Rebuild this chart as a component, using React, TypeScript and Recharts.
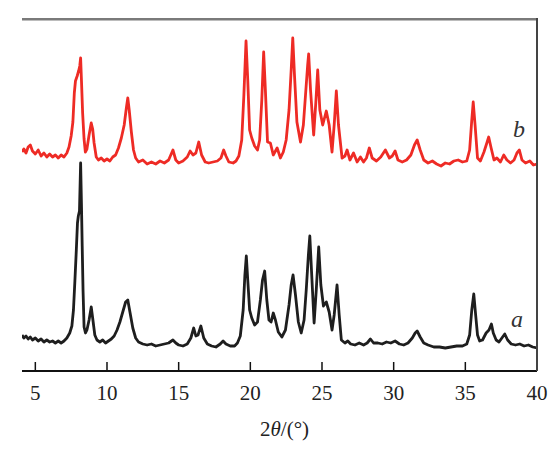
import { LineChart, Line, XAxis, YAxis } from 'recharts';

// 2θ positions (deg) and intensity (a.u.), sample a (black)
const anglesA = [
  4.07, 4.2, 4.35, 4.5, 4.65, 4.8, 5.0, 5.2, 5.4, 5.6, 5.8, 6.0, 6.2, 6.4, 6.6, 6.8, 7.0, 7.2, 7.4,
  7.55, 7.66, 7.76, 7.86, 7.94, 8.0, 8.08, 8.16, 8.22, 8.27, 8.33, 8.4, 8.5, 8.6, 8.75, 8.9, 9.0, 9.15,
  9.3, 9.5, 9.7, 9.9, 10.1, 10.3, 10.5, 10.7, 10.9, 11.1, 11.3, 11.45, 11.6, 11.8, 12.0, 12.2, 12.5,
  12.8, 13.1, 13.4, 13.7, 14.0, 14.3, 14.6, 14.8, 15.0, 15.3, 15.6, 15.85, 16.05, 16.2, 16.35, 16.55,
  16.75, 17.0, 17.3, 17.6, 17.9, 18.1, 18.3, 18.6, 18.9, 19.1, 19.3, 19.5, 19.62, 19.72, 19.82, 19.95,
  20.1, 20.3, 20.5, 20.7, 20.85, 21.0, 21.15, 21.3, 21.45, 21.6, 21.75, 21.95, 22.2, 22.45, 22.7, 22.85,
  22.98, 23.15, 23.35, 23.55, 23.75, 23.9, 24.05, 24.15, 24.3, 24.45, 24.6, 24.77, 24.92, 25.1, 25.3,
  25.5, 25.7, 25.85, 26.05, 26.2, 26.35, 26.6, 26.8, 27.0, 27.3, 27.6, 27.9, 28.15, 28.38, 28.6, 28.9,
  29.2, 29.5, 29.8, 30.1, 30.4, 30.7, 31.0, 31.3, 31.5, 31.64, 31.85, 32.1, 32.4, 32.8, 33.2, 33.6,
  34.0, 34.4, 34.8, 35.1, 35.3, 35.45, 35.59, 35.72, 35.85, 36.0, 36.2, 36.45, 36.65, 36.82, 36.95,
  37.15, 37.35, 37.55, 37.75, 37.95, 38.2, 38.5, 38.8, 39.1, 39.4, 39.7, 40.0,
];
const countsA = [
  36, 33, 35, 32, 34, 31, 33, 30, 32, 29, 31, 29, 30, 28, 30, 28, 30, 33, 38,
  45, 61, 90, 121, 148, 155, 160, 208, 165, 125, 80, 44, 38, 41, 51, 64, 53, 36,
  31, 29, 31, 28, 30, 32, 35, 41, 49, 59, 69, 71, 59, 43, 33, 29, 27,
  26, 27, 25, 26, 27, 28, 31, 28, 26, 25, 27, 33, 43, 35, 36, 45,
  33, 27, 25, 24, 27, 30, 27, 25, 25, 28, 35, 61, 96, 115, 91, 61,
  53, 46, 49, 71, 91, 100, 71, 51, 49, 58, 51, 39, 34, 41, 66, 86,
  96, 76, 49, 38, 51, 81, 116, 135, 91, 48, 81, 124, 86, 65, 69,
  59, 41, 56, 86, 56, 31, 28, 30, 27, 26, 28, 26, 28, 32, 28, 28,
  27, 29, 28, 30, 27, 26, 28, 33, 38, 40, 34, 28, 26, 24, 24, 23,
  24, 25, 25, 27, 36, 61, 77, 56, 36, 30, 31, 38, 41, 47, 38,
  31, 29, 33, 37, 31, 27, 26, 27, 25, 26, 24, 23,
];

// sample b (red)
const anglesB = [
  4.07, 4.2, 4.35, 4.5, 4.65, 4.8, 5.0, 5.2, 5.4, 5.6, 5.8, 6.0, 6.2, 6.4, 6.6, 6.8, 7.0, 7.2, 7.35,
  7.5, 7.62, 7.72, 7.8, 7.92, 8.02, 8.1, 8.16, 8.22, 8.3, 8.4, 8.49, 8.6, 8.75, 8.9, 9.0, 9.1, 9.25,
  9.4, 9.6, 9.8, 10.0, 10.2, 10.4, 10.6, 10.8, 11.0, 11.2, 11.35, 11.45, 11.55, 11.7, 11.85, 12.0,
  12.2, 12.5, 12.8, 13.1, 13.4, 13.7, 14.0, 14.3, 14.6, 14.8, 15.0, 15.3, 15.6, 15.8, 16.0, 16.2,
  16.4, 16.6, 16.85, 17.1, 17.4, 17.7, 17.95, 18.14, 18.3, 18.5, 18.8, 19.0, 19.2, 19.4, 19.55, 19.7,
  19.82, 19.95, 20.1, 20.3, 20.5, 20.65, 20.8, 20.93, 21.05, 21.2, 21.4, 21.6, 21.87, 22.1, 22.3, 22.5,
  22.7, 22.85, 22.96, 23.08, 23.25, 23.5, 23.7, 23.85, 24.0, 24.07, 24.2, 24.42, 24.58, 24.7, 24.85,
  25.05, 25.3, 25.5, 25.7, 25.85, 26.0, 26.15, 26.4, 26.6, 26.75, 26.95, 27.2, 27.45, 27.68, 27.9,
  28.1, 28.3, 28.5, 28.8, 29.1, 29.42, 29.7, 29.9, 30.1, 30.3, 30.6, 30.9, 31.2, 31.45, 31.64, 31.85,
  32.1, 32.4, 32.7, 33.0, 33.3, 33.6, 33.9, 34.2, 34.5, 34.8, 35.1, 35.3, 35.45, 35.55, 35.68, 35.85,
  36.05, 36.3, 36.5, 36.63, 36.8, 37.0, 37.2, 37.45, 37.68, 37.9, 38.15, 38.4, 38.6, 38.77, 38.95,
  39.2, 39.5, 39.75, 40.0,
];
const countsB = [
  219, 222, 218, 224, 226, 220, 217, 221, 215, 218, 214, 217, 214, 216, 213, 216, 214, 218, 224,
  235, 249, 278, 290, 295, 300, 305, 313, 290, 258, 232, 219, 222, 236, 248, 242, 228, 214,
  211, 213, 210, 212, 210, 214, 216, 223, 233, 246, 263, 273, 261, 239, 221, 213,
  209, 211, 207, 209, 207, 210, 208, 211, 221, 211, 208, 210, 214, 220, 216, 218,
  229, 216, 209, 208, 209, 210, 213, 221, 215, 209, 208, 210, 215, 231, 276, 330,
  291, 241, 233, 225, 221, 231, 271, 319, 281, 229, 228, 216, 223, 213, 219, 231,
  261, 301, 333, 296, 249, 229, 246, 276, 306, 317, 281, 236, 271, 301, 261,
  246, 260, 246, 219, 246, 280, 246, 213, 215, 221, 211, 218, 209, 214, 209,
  213, 223, 213, 210, 214, 221, 213, 215, 220, 211, 209, 211, 216, 226, 231, 221,
  211, 208, 210, 207, 205, 208, 207, 210, 211, 209, 210, 221, 251, 269, 246, 213,
  210, 219, 228, 234, 223, 211, 213, 209, 216, 211, 208, 211, 218, 221, 211,
  208, 210, 206, 207,
];

const xTicks = [5, 10, 15, 20, 25, 30, 35, 40];

const seriesA = anglesA.map((angle, i) => ({ angle, intensity: countsA[i] }));
const seriesB = anglesB.map((angle, i) => ({ angle, intensity: countsB[i] }));

const FONT = "'Liberation Serif', 'Times New Roman', serif";

// plot box (matches the chart margins below)
const PLOT = { left: 22, top: 19, right: 537, bottom: 371 };

function InwardTick(props: any) {
  const { x, y, payload } = props;
  return (
    <g>
      <line x1={x} x2={x} y1={y} y2={y - 9} stroke="#111" strokeWidth={1.5} />
      <text x={x} y={y + 29} textAnchor="middle" style={{ fontSize: 21, fontFamily: FONT }} fill="#222">
        {payload.value}
      </text>
    </g>
  );
}

export default function App() {
  return (
    <div style={{ position: 'relative', width: 557, height: 453, background: '#fff' }}>
      <style>{'body{margin:0}'}</style>
      <LineChart
        width={557}
        height={453}
        margin={{ top: PLOT.top, right: 557 - PLOT.right, left: PLOT.left, bottom: 52 }}
      >
        <XAxis
          dataKey="angle"
          type="number"
          domain={[4.07, 40]}
          ticks={xTicks}
          allowDataOverflow
          height={30}
          tickSize={0}
          tickMargin={0}
          tickLine={false}
          tick={<InwardTick />}
          axisLine={{ stroke: '#111', strokeWidth: 2 }}
        />
        <YAxis
          type="number"
          domain={[0, 352]}
          allowDataOverflow
          width={0}
          tick={false}
          tickLine={false}
          axisLine={{ stroke: '#111', strokeWidth: 2 }}
        />
        <Line
          data={seriesB}
          dataKey="intensity"
          stroke="#ee2b25"
          strokeWidth={2.8}
          strokeLinejoin="round"
          dot={false}
          isAnimationActive={false}
        />
        <Line
          data={seriesA}
          dataKey="intensity"
          stroke="#1e1e1e"
          strokeWidth={2.8}
          strokeLinejoin="round"
          dot={false}
          isAnimationActive={false}
        />
      </LineChart>
      <svg
        width={557}
        height={453}
        style={{ position: 'absolute', left: 0, top: 0, pointerEvents: 'none' }}
      >
        {/* frame: grey top edge, dark right edge */}
        <rect x={PLOT.left} y={PLOT.top - 1} width={PLOT.right - PLOT.left} height={2.5} fill="#7a7a7a" />
        <rect x={PLOT.right - 1} y={PLOT.top - 1} width={2} height={PLOT.bottom - PLOT.top + 1} fill="#444" />
        <text x={517} y={327} textAnchor="middle" style={{ fontSize: 24, fontStyle: 'italic', fontFamily: FONT }} fill="#333">
          a
        </text>
        <text x={519} y={137} textAnchor="middle" style={{ fontSize: 24, fontStyle: 'italic', fontFamily: FONT }} fill="#333">
          b
        </text>
        <text x={260} y={436} style={{ fontSize: 21, fontFamily: FONT }} fill="#222">
          2<tspan style={{ fontStyle: 'italic' }}>θ</tspan>/(°)
        </text>
      </svg>
    </div>
  );
}
